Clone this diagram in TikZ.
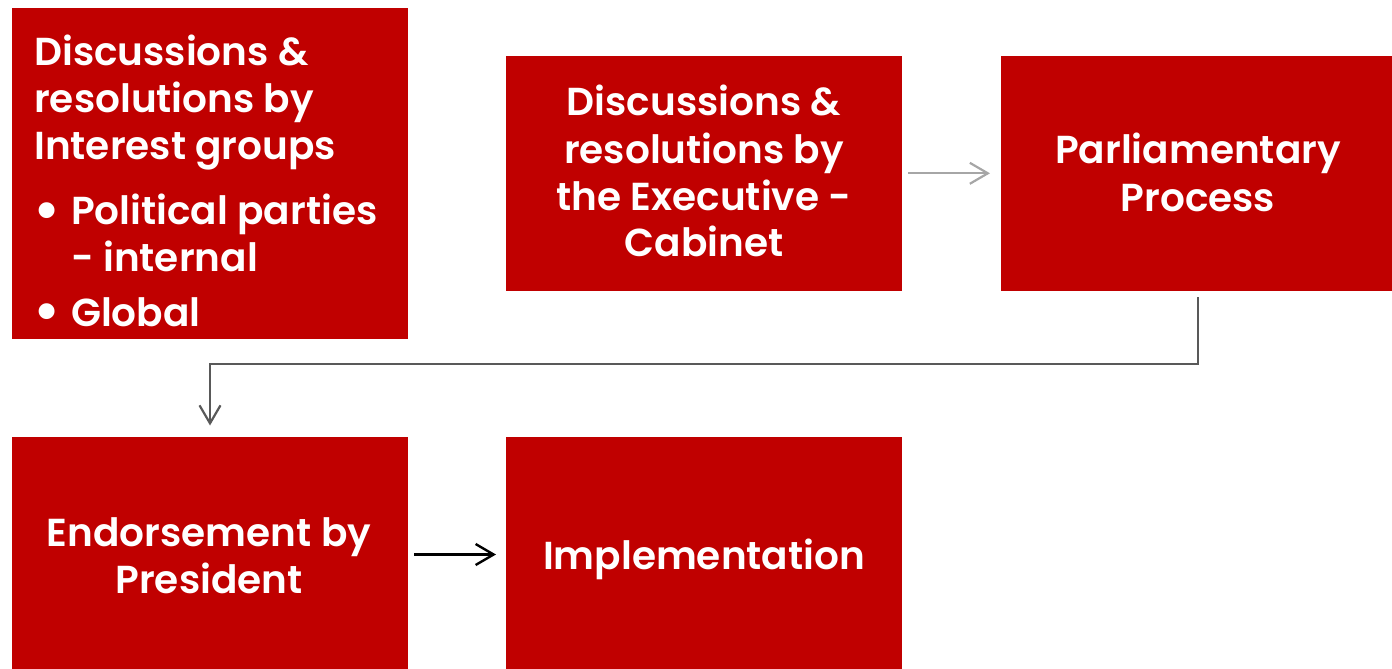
\documentclass[tikz,border=0pt]{standalone}
\usepackage{fontspec}
\usetikzlibrary{arrows.meta}
\newfontfamily\pop{Poppins}[BoldFont={* SemiBold}]
\newlength\wimp
\settowidth\wimp{\pop\bfseries\fontsize{10pt}{12pt}\selectfont Implementation}
\pgfmathsetmacro\fsz{10*322/\wimp}
\pgfmathsetmacro\bsz{1.45*\fsz}
\newcommand\boxfont{\pop\bfseries\fontsize{\fsz pt}{\fsz pt}\selectfont}
\newcommand\bulfont{\pop\bfseries\fontsize{\bsz pt}{\bsz pt}\selectfont}
\definecolor{boxred}{HTML}{C00000}
\definecolor{lightarrow}{HTML}{A6A6A6}
\definecolor{darkarrow}{HTML}{595959}
\tikzset{
  box/.style={fill=boxred, draw=none, minimum width=396pt, minimum height=235pt,
    anchor=north west, inner sep=0pt, outer sep=0pt},
  ct/.style={text=white, font=\boxfont, inner sep=0pt, anchor=base},
  lt/.style={text=white, font=\boxfont, inner sep=0pt, anchor=base west},
  bul/.style={text=white, font=\bulfont, inner sep=0pt, anchor=base west},
  barb/.style={-{Straight Barb[length=18pt,width=21pt]}},
  grayconn/.style={barb, draw=lightarrow, line width=2.2pt},
  darkconn/.style={barb, draw=darkarrow, line width=2.2pt},
  blackconn/.style={barb, draw=black, line width=2.4pt}
}
\begin{document}
\begin{tikzpicture}[x=1pt,y=-1pt]
\useasboundingbox (0,0) rectangle (1392,669);
\clip (0,0) rectangle (1392,669);
% boxes
\node[box, minimum height=331pt] (b1) at (12,8) {};
\node[box] (b2) at (506,56) {};
\node[box, minimum width=394pt] (b3) at (1001,56) {};
\node[box] (b4) at (12,437) {};
\node[box] (b5) at (506,437) {};
% box 1 text
\node[lt] (t1a) at (34,65.7) {Discussions \&};
\node[lt] (t1b) at (34,112) {resolutions by};
\node[lt] (t1c) at (34,159.5) {Interest groups};
\node[bul] (u1) at (33,229.5) {•};
\node[lt] (t1d) at (71,224.3) {Political parties};
\node[lt] (t1e) at (71,271.7) {- internal};
\node[bul] (u2) at (33,330) {•};
\node[lt] (t1f) at (71,326.7) {Global};
% box 2 text
\node[ct] (t2a) at (704,115.7) {Discussions \&};
\node[ct] (t2b) at (704,163) {resolutions by};
\node[ct] (t2c) at (704,210) {the Executive -};
\node[ct] (t2d) at (704,256.7) {Cabinet};
% box 3 text
\node[ct] (t3a) at (1198,163.3) {Parliamentary};
\node[ct] (t3b) at (1198,211.7) {Process};
% box 4 text
\node[ct] (t4a) at (209,546.7) {Endorsement by};
\node[ct] (t4b) at (209,593.3) {President};
% box 5 text
\node[ct] (t5a) at (704,569.3) {Implementation};
% connectors
\draw[grayconn] ([xshift=6pt,yshift=0.2pt]b2.east) -- ([xshift=-11pt,yshift=0.2pt]b3.west);
\draw[darkconn] ([yshift=-6pt]b3.south) |- ([yshift=73pt]b4.north) -- ([yshift=11.5pt]b4.north);
\draw[blackconn] ([xshift=6pt]b4.east) -- ([xshift=-10pt]b5.west);
\end{tikzpicture}
\end{document}
